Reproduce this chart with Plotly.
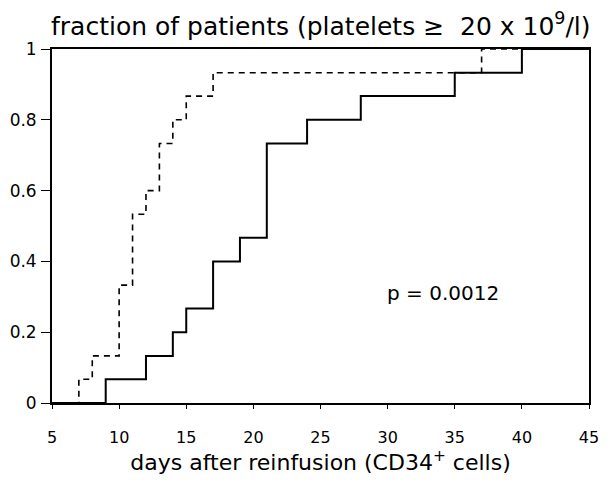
import plotly.graph_objects as go

# Data
dashed_days = [5, 7, 8, 10, 11, 12, 13, 14, 15, 17, 37, 45]
dashed_frac = [0, 0.067, 0.133, 0.333, 0.533, 0.6, 0.733, 0.8, 0.867, 0.933, 1.0, 1.0]

solid_days = [5, 9, 12, 14, 15, 17, 19, 21, 24, 28, 35, 40, 45]
solid_frac = [0, 0.067, 0.133, 0.2, 0.267, 0.4, 0.467, 0.733, 0.8, 0.867, 0.933, 1.0, 1.0]

x_ticks = [5, 10, 15, 20, 25, 30, 35, 40, 45]
y_ticks = [0, 0.2, 0.4, 0.6, 0.8, 1]
y_tick_labels = ["0", "0.2", "0.4", "0.6", "0.8", "1"]

title_text = "fraction of patients (platelets ≥\u00a0\u00a020 x 10<sup>9</sup>/l)"
x_title_text = "days after reinfusion (CD34<sup>+</sup> cells)"
p_text = "p = 0.0012"

FONT = "DejaVu Sans, Verdana, sans-serif"

fig = go.Figure()
fig.add_trace(go.Scatter(
    x=dashed_days, y=dashed_frac, mode="lines", line_shape="hv",
    line=dict(color="black", width=1.6, dash="6px,5px"), showlegend=False,
))
fig.add_trace(go.Scatter(
    x=solid_days, y=solid_frac, mode="lines", line_shape="hv",
    line=dict(color="black", width=2), showlegend=False,
))

fig.add_annotation(
    x=34.1, y=0.31, xref="x", yref="y", text=p_text, showarrow=False,
    font=dict(family=FONT, size=20, color="black"),
)
fig.add_annotation(
    x=0.5, y=1.0, xref="paper", yref="paper", yshift=25, yanchor="middle",
    text=title_text, showarrow=False,
    font=dict(family=FONT, size=25, color="black"),
)

common = dict(showgrid=False, zeroline=False)
fig.update_layout(
    width=609, height=481,
    margin=dict(l=52, r=10, t=49, b=78),
    plot_bgcolor="white", paper_bgcolor="white",
    xaxis=dict(
        range=[5, 45], tickvals=x_ticks, ticks="outside", ticklen=4, tickwidth=1,
        tickcolor="black", showline=True, linecolor="black", linewidth=1.8, mirror=True,
        tickfont=dict(family=FONT, size=16, color="black"), ticklabelstandoff=15,
        title=dict(text=x_title_text, font=dict(family=FONT, size=22, color="black"),
                   standoff=5),
        **common,
    ),
    yaxis=dict(
        range=[0, 1], tickvals=y_ticks, ticktext=y_tick_labels, ticks="outside",
        ticklen=9, tickwidth=1, tickcolor="black", showline=True, linecolor="black",
        linewidth=1.8, mirror=True, ticklabelstandoff=1,
        tickfont=dict(family=FONT, size=17, color="black"),
        **common,
    ),
    xaxis2=dict(
        overlaying="x", matches="x", range=[5, 45], tickvals=x_ticks, ticks="inside",
        ticklen=4, tickwidth=1, tickcolor="black", showticklabels=False,
        side="bottom", anchor="y", **common,
    ),
    yaxis2=dict(
        overlaying="y", matches="y", range=[0, 1], tickvals=y_ticks, ticks="inside",
        ticklen=9, tickwidth=1, tickcolor="black", showticklabels=False,
        side="left", anchor="x", **common,
    ),
)
fig.write_html(
    "out.html",
    config={"displayModeBar": False},
    post_script="document.body.style.margin='0';",
)
